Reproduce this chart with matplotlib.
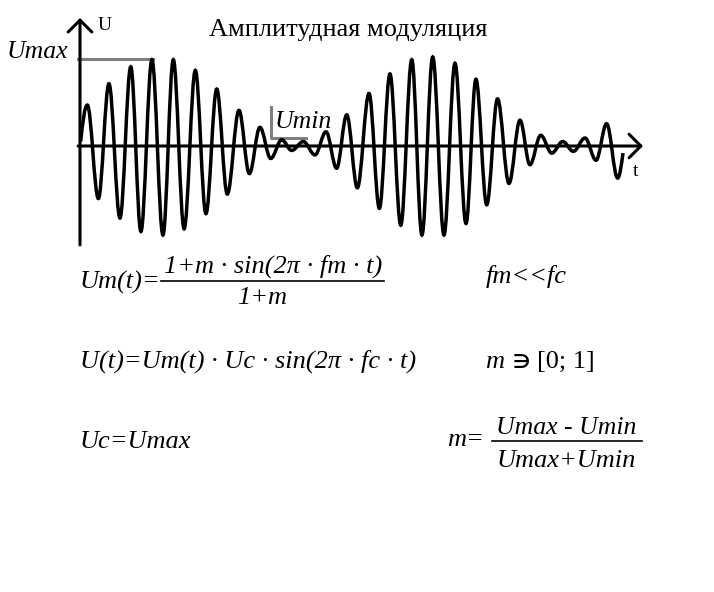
import numpy as np
import matplotlib.pyplot as plt
from matplotlib.path import Path
from matplotlib.patches import PathPatch

# AM signal, extrema
# t in carrier periods, U relative to Umax
t_ext = [0.34, 0.85, 1.34, 1.85, 2.35, 2.82, 3.33, 3.84, 4.32, 4.82,
         5.34, 5.83, 6.33, 6.82, 7.36, 7.84, 8.33, 8.83, 9.34, 9.80,
         10.34, 10.88, 11.39, 11.88, 12.35, 12.84, 13.38, 13.86, 14.35, 14.85,
         15.36, 15.83, 16.33, 16.85, 17.36, 17.87, 18.33, 18.83, 19.33, 19.86,
         20.37, 20.83, 21.33, 21.84, 22.35, 22.84, 23.38, 23.89, 24.38, 24.89]
u_ext = [0.46, -0.59, 0.70, -0.81, 0.89, -0.96, 0.97, -1.00, 0.97, -0.93,
         0.85, -0.76, 0.64, -0.54, 0.40, -0.31, 0.21, -0.14, 0.07, -0.05,
         0.05, -0.10, 0.16, -0.25, 0.35, -0.47, 0.59, -0.70, 0.81, -0.89,
         0.97, -1.00, 1.00, -1.00, 0.93, -0.87, 0.75, -0.66, 0.53, -0.42,
         0.29, -0.21, 0.12, -0.08, 0.05, -0.06, 0.09, -0.16, 0.25, -0.36]
t_start, u_start = 0.03, 0.05
t_end, u_end = 25.14, -0.08

# grey marks for Umax and Umin
u_max_level = 0.98
t_max_mark = [-0.09, 3.38]
u_min_level = 0.09
t_min_mark = [8.84, 10.46]

title = "Амплитудная модуляция"

W, H = 714, 592
serif = ['Liberation Serif', 'DejaVu Serif']
plt.rcParams['font.family'] = serif

fig = plt.figure(figsize=(W / 100, H / 100), dpi=100)

# waveform axes: 1 carrier period = 21.6 px, Umax = 89 px
wave = fig.add_axes([80 / W, (H - 245) / H, 563 / W, 227 / H])
wave.set_xlim(0, 563 / 21.6)
wave.set_ylim(-99 / 89, 128 / 89)
wave.axis('off')

# smooth curve through the extrema (cubic bezier, flat at every extremum)
k = 1 - 2 / np.pi
verts = [(t_start, u_start)]
codes = [Path.MOVETO]
dt = t_ext[0] - t_start
verts += [(t_start + dt / 3, u_start + (u_ext[0] - u_start) * 0.55),
          (t_ext[0] - 0.4 * dt, u_ext[0]), (t_ext[0], u_ext[0])]
codes += [Path.CURVE4] * 3
for i in range(len(t_ext) - 1):
    t0, u0, t1, u1 = t_ext[i], u_ext[i], t_ext[i + 1], u_ext[i + 1]
    dt = t1 - t0
    verts += [(t0 + k * dt, u0), (t1 - k * dt, u1), (t1, u1)]
    codes += [Path.CURVE4] * 3
dt = t_end - t_ext[-1]
verts += [(t_ext[-1] + 0.4 * dt, u_ext[-1]),
          (t_end - dt / 3, u_end - (u_end - u_ext[-1]) * 0.5), (t_end, u_end)]
codes += [Path.CURVE4] * 3
wave.add_patch(PathPatch(Path(verts, codes), facecolor='none',
                         edgecolor='black', lw=2.5, capstyle='butt', zorder=3))

# axes with open arrow heads
arrow = dict(arrowstyle='->,head_length=0.85,head_width=0.85', lw=2.2,
             color='black', shrinkA=0, shrinkB=0)
y0, y1 = wave.get_ylim()
x0, x1 = wave.get_xlim()
wave.annotate('', xy=(0, y1), xytext=(0, y0), arrowprops=arrow,
              annotation_clip=False)
wave.annotate('', xy=(x1, 0), xytext=(-0.09, 0), arrowprops=arrow,
              annotation_clip=False)

# Umax / Umin marks
wave.plot(t_max_mark, [u_max_level, u_max_level],
          color='#808080', lw=2.2, clip_on=False, zorder=2)
wave.plot([t_min_mark[0], t_min_mark[0], t_min_mark[1]],
          [0.44, u_min_level, u_min_level],
          color='#808080', lw=2.2, clip_on=False, zorder=2)

# text layer in pixel coordinates
txt = fig.add_axes([0, 0, 1, 1], zorder=-1)
txt.set_xlim(0, W)
txt.set_ylim(H, 0)
txt.axis('off')

fs = 19
it = dict(fontsize=fs, style='italic', va='baseline')

txt.text(348, 36, title, fontsize=19, ha='center', va='baseline')
txt.text(98, 30, 'U', fontsize=14, va='baseline')
txt.text(633, 176, 't', fontsize=14, va='baseline')
txt.text(7, 58, 'Umax', fontsize=18.5, style='italic', va='baseline')
txt.text(275, 128, 'Umin', fontsize=18.5, style='italic', va='baseline')

txt.text(80, 289, 'Um(t)=', **it)
txt.text(273, 273, '1+m · sin(2π · fm · t)', ha='center', **it)
txt.plot([161, 384], [281, 281], color='black', lw=1.2)
txt.text(262, 304, '1+m', ha='center', **it)
txt.text(486, 283, 'fm<<fc', **it)

txt.text(80, 368, 'U(t)=Um(t) · Uc · sin(2π · fc · t)', **it)
txt.text(485, 368, 'm', **it)
txt.text(513, 368, '∋', fontsize=14, fontweight='bold', va='baseline',
         family=['DejaVu Sans'])
txt.text(537, 368, '[0; 1]', fontsize=fs, va='baseline')

txt.text(80, 448, 'Uc=Umax', **it)
txt.text(447, 446, 'm=', **it)
txt.text(566, 434, 'Umax - Umin', ha='center', fontsize=18.5,
         style='italic', va='baseline')
txt.plot([492, 642], [441, 441], color='black', lw=1.2)
txt.text(566, 467, 'Umax+Umin', ha='center', **it)

fig.savefig('out.png', dpi=100, facecolor='white')
